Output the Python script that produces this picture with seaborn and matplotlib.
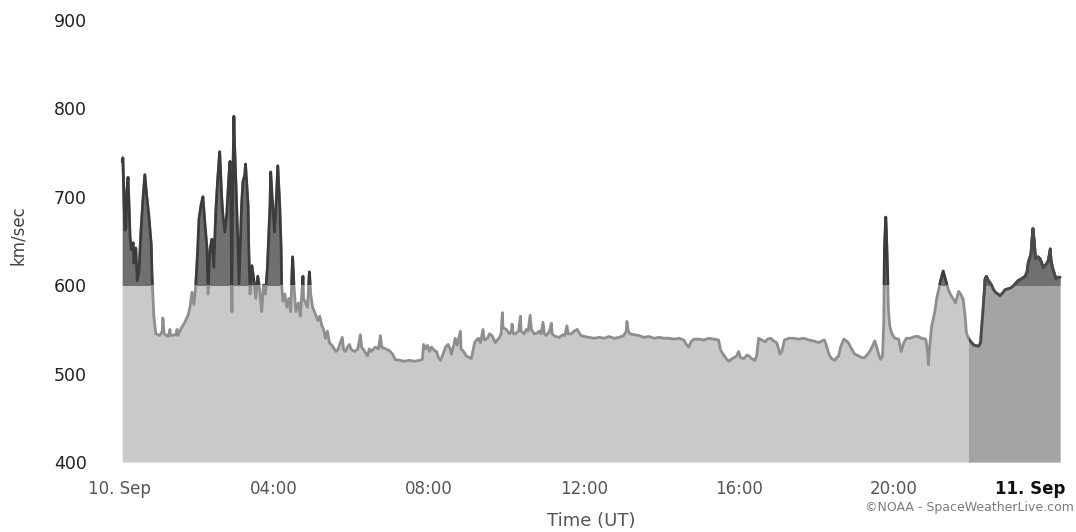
import numpy as np
import pandas as pd
import matplotlib
matplotlib.use("Agg")
import matplotlib.pyplot as plt
import seaborn as sns
from matplotlib.patches import Rectangle
from matplotlib.transforms import ScaledTranslation

sns.set_style("white")
plt.rcParams["font.family"] = ["DejaVu Sans"]

# Solar wind speed, minutes after 00:00 UT on 10 Sep
minutes = [
    5, 6, 8, 9, 11, 12, 14, 16, 17, 19,
    22, 23, 26, 28, 31, 34, 37, 40, 43, 46,
    50, 51, 54, 57, 63, 67, 68, 70, 76, 79,
    80, 88, 90, 91, 97, 102, 107, 110, 113, 116,
    119, 122, 124, 127, 130, 133, 136, 138, 141, 144,
    147, 150, 153, 156, 159, 161, 164, 167, 170, 172,
    173, 175, 176, 178, 179, 181, 184, 186, 187, 190,
    192, 195, 196, 200, 201, 203, 206, 209, 212, 215,
    218, 221, 224, 227, 230, 234, 235, 238, 241, 244,
    246, 249, 251, 252, 254, 257, 260, 263, 266, 269,
    271, 274, 278, 281, 285, 286, 289, 292, 295, 297,
    300, 303, 308, 311, 314, 317, 320, 323, 326, 331,
    336, 339, 346, 348, 351, 354, 357, 360, 365, 370,
    374, 376, 379, 385, 388, 391, 397, 402, 405, 407,
    413, 419, 424, 428, 435, 442, 450, 458, 466, 470,
    472, 475, 478, 481, 484, 489, 492, 495, 498, 501,
    506, 510, 513, 515, 518, 521, 524, 529, 530, 534,
    538, 543, 546, 549, 551, 554, 557, 560, 564, 566,
    571, 574, 578, 583, 586, 589, 592, 594, 595, 600,
    605, 608, 609, 611, 614, 619, 622, 623, 628, 631,
    634, 637, 639, 643, 648, 651, 654, 657, 659, 662,
    667, 670, 671, 676, 682, 688, 691, 694, 696, 701,
    705, 710, 713, 716, 721, 728, 736, 744, 752, 759,
    767, 775, 782, 786, 787, 789, 792, 798, 806, 813,
    821, 829, 837, 844, 852, 860, 868, 875, 880, 883,
    886, 891, 898, 906, 914, 922, 929, 932, 936, 939,
    942, 945, 950, 953, 957, 960, 963, 968, 973, 976,
    980, 985, 988, 991, 996, 1001, 1005, 1010, 1014, 1019,
    1022, 1024, 1027, 1031, 1038, 1045, 1053, 1061, 1069, 1076,
    1084, 1089, 1093, 1096, 1100, 1104, 1109, 1112, 1115, 1118,
    1123, 1127, 1130, 1135, 1140, 1146, 1151, 1155, 1160, 1163,
    1168, 1171, 1174, 1177, 1180, 1183, 1185, 1186, 1188, 1189,
    1191, 1192, 1194, 1197, 1202, 1208, 1212, 1216, 1220, 1226,
    1233, 1239, 1243, 1250, 1253, 1254, 1256, 1259, 1264, 1267,
    1270, 1273, 1277, 1281, 1285, 1288, 1293, 1296, 1301, 1304,
    1308, 1311, 1313, 1316, 1321, 1325, 1332, 1335, 1336, 1339,
    1342, 1344, 1347, 1352, 1355, 1358, 1362, 1365, 1370, 1373,
    1378, 1382, 1387, 1393, 1400, 1404, 1407, 1409, 1413, 1416,
    1418, 1420, 1424, 1427, 1432, 1437, 1440, 1443, 1444, 1447,
    1452, 1455, 1458,
]

# km/sec
speed = [
    740, 744, 690, 662, 665, 705, 722, 680, 655, 640,
    648, 625, 642, 605, 615, 660, 695, 725, 700, 680,
    645, 612, 565, 545, 543, 548, 563, 545, 542, 550,
    543, 544, 550, 543, 552, 558, 566, 575, 592, 578,
    600, 640, 675, 690, 700, 670, 644, 590, 640, 652,
    620, 683, 720, 751, 700, 678, 660, 680, 720, 740,
    700, 570, 700, 791, 760, 717, 652, 600, 622, 690,
    717, 725, 737, 690, 641, 590, 622, 605, 585, 610,
    595, 570, 600, 590, 620, 690, 728, 690, 660, 700,
    735, 690, 645, 600, 582, 590, 575, 585, 570, 632,
    600, 570, 580, 565, 610, 585, 580, 575, 615, 590,
    575, 570, 560, 565, 555, 550, 540, 548, 535, 531,
    525, 527, 541, 527, 525, 530, 533, 527, 525, 528,
    544, 530, 527, 520, 528, 525, 530, 528, 543, 530,
    528, 526, 522, 516, 515, 514, 515, 514, 515, 516,
    533, 528, 532, 525, 530, 526, 525, 518, 515, 520,
    530, 533, 528, 522, 530, 540, 532, 548, 528, 525,
    520, 518, 517, 528, 535, 538, 540, 535, 550, 538,
    540, 545, 543, 535, 538, 540, 545, 569, 552, 550,
    545, 548, 556, 545, 545, 548, 565, 548, 545, 550,
    548, 566, 550, 545, 546, 548, 545, 558, 545, 543,
    548, 557, 545, 542, 541, 544, 543, 554, 545, 545,
    548, 550, 546, 543, 542, 541, 540, 541, 540, 542,
    540, 541, 543, 548, 559, 548, 545, 544, 543, 541,
    542, 540, 541, 540, 540, 539, 540, 538, 532, 530,
    536, 539, 539, 538, 540, 539, 538, 527, 522, 519,
    516, 514, 517, 518, 520, 525, 518, 517, 521, 520,
    517, 515, 520, 540, 538, 536, 539, 540, 537, 535,
    528, 522, 525, 538, 540, 540, 539, 540, 538, 537,
    535, 537, 538, 532, 522, 517, 515, 518, 520, 530,
    539, 537, 535, 528, 522, 520, 518, 518, 522, 525,
    532, 537, 530, 522, 516, 520, 560, 640, 677, 660,
    610, 575, 555, 546, 540, 539, 525, 535, 540, 540,
    542, 542, 540, 539, 525, 510, 530, 553, 570, 585,
    595, 605, 616, 605, 595, 590, 584, 580, 593, 590,
    584, 565, 546, 540, 535, 532, 531, 535, 546, 575,
    607, 610, 605, 600, 595, 592, 590, 588, 592, 595,
    596, 597, 600, 605, 608, 610, 615, 626, 635, 664,
    650, 630, 632, 630, 620, 624, 628, 641, 628, 618,
    607, 609, 609,
]
assert len(minutes) == len(speed)

tick_hours = [0, 4, 8, 12, 16, 20, 24]
tick_labels = ["10. Sep", "04:00", "08:00", "12:00", "16:00", "20:00", "11. Sep"]
y_ticks = [400, 500, 600, 700, 800, 900]
high_speed = 600          # zone threshold for the darker shading
late_zone_hours = 21.95   # start of the final, darker zone

df = pd.DataFrame({"hours": np.array(minutes) / 60.0, "speed": speed})

W, H = 1076, 532
fig = plt.figure(figsize=(W / 100, H / 100), dpi=100)
ax = fig.add_axes([119 / W, 70 / H, 941 / W, 442 / H])

t = df["hours"].to_numpy()
v = df["speed"].to_numpy()
x_max = 24.3
y_min, y_max = 400, 900


def clip_to(artist, x0, y0, x1, y1):
    rect = Rectangle((x0, y0), x1 - x0, y1 - y0, transform=ax.transData,
                     facecolor="none", edgecolor="none")
    artist.set_clip_path(rect)


# Area under the curve
ax.fill_between(t, y_min, v, color="#c9c9c9", lw=0, zorder=1)
late_fill = ax.fill_between(t, y_min, v, color="#a4a4a4", lw=0, zorder=2)
clip_to(late_fill, late_zone_hours, y_min, x_max + 1, y_max)
high_fill = ax.fill_between(t, y_min, v, color="#707070", lw=0, zorder=3)
clip_to(high_fill, -1, high_speed, x_max + 1, y_max)

# Speed line, darker above the threshold and in the late zone
sns.lineplot(data=df, x="hours", y="speed", estimator=None, sort=False,
             errorbar=None, color="#8e8e8e", lw=2.0, ax=ax, zorder=4)
sns.lineplot(data=df, x="hours", y="speed", estimator=None, sort=False,
             errorbar=None, color="#3c3c3c", lw=2.0, ax=ax, zorder=5)
clip_to(ax.lines[-1], -1, high_speed, x_max + 1, y_max)
sns.lineplot(data=df, x="hours", y="speed", estimator=None, sort=False,
             errorbar=None, color="#4a4a4a", lw=2.0, ax=ax, zorder=5)
clip_to(ax.lines[-1], late_zone_hours, y_min, x_max + 1, y_max)

ax.set_xlim(0, x_max)
ax.set_ylim(y_min, y_max)
ax.set_xticks(tick_hours)
ax.set_xticklabels(tick_labels)
ax.set_yticks(y_ticks)
ax.set_xlabel("")
ax.set_ylabel("")
ax.grid(False)
sns.despine(ax=ax, left=True, bottom=True)

ax.tick_params(axis="x", direction="out", length=8, width=0.8, color="#c0c0c0",
               pad=5, labelsize=12, labelcolor="#555555")
ax.tick_params(axis="y", length=0, pad=23, labelsize=12.5, labelcolor="#222222")

# Final date label: bold and pulled inside the frame
last = ax.get_xticklabels()[-1]
last.set_fontweight("bold")
last.set_color("#111111")
last.set_horizontalalignment("right")
last.set_transform(last.get_transform() + ScaledTranslation(0.17, 0, fig.dpi_scale_trans))

fig.text(18 / W, 1 - 235 / H, "km/sec", rotation=90, ha="center", va="center",
         fontsize=12, color="#444444")
fig.text(591 / W, 1 - 521 / H, "Time (UT)", ha="center", va="center",
         fontsize=13, color="#555555")
fig.text(1074 / W, 1 - 508 / H, "©NOAA - SpaceWeatherLive.com", ha="right",
         va="center", fontsize=9, color="#7a7a7a")

fig.savefig("out.png", dpi=100, facecolor="white")
